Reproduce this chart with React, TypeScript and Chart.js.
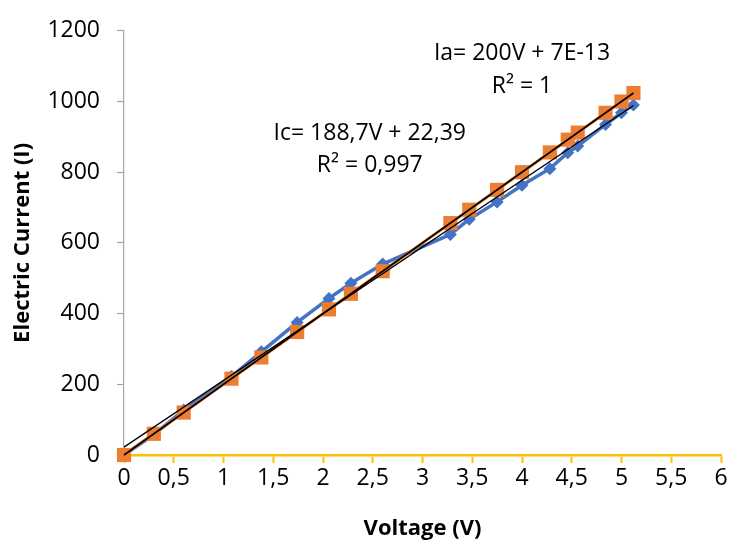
import React, { useEffect, useRef } from 'react';
import { Chart, registerables } from 'chart.js';

Chart.register(...registerables);

// ---- data ----
const voltage = [0, 0.3, 0.6, 1.08, 1.38, 1.74, 2.06, 2.28, 2.6, 3.28, 3.47, 3.75, 4.0, 4.28, 4.46, 4.56, 4.84, 5.0, 5.12];
const currentIa = [0, 60, 120, 216, 276, 348, 412, 456, 520, 656, 694, 750, 800, 856, 892, 912, 968, 1000, 1024];
const currentIc = [0, 58, 127, 222, 292, 375, 443, 486, 540, 624, 667, 716, 763, 810, 855, 874, 935, 968, 990];

// trendline equations as printed on the chart
const trendIaCoef = [200, 7e-13]; // slope, intercept
const trendIcCoef = [188.7, 22.39];
const trendRange = [0, 5.12];

const xAxisMin = 0;
const xAxisMax = 6;
const xAxisStep = 0.5;
const yAxisMin = 0;
const yAxisMax = 1200;
const yAxisStep = 200;

const labelIa = ['Ia= 200V + 7E-13', 'R² = 1'];
const labelIc = ['Ic= 188,7V + 22,39', 'R² = 0,997'];

const xTitle = 'Voltage (V)';
const yTitle = 'Electric Current (I)';

const FONT = "'Open Sans', 'Noto Sans', sans-serif";

const toPoints = (xs: number[], ys: number[]) => xs.map((x, i) => ({ x, y: ys[i] }));
const trendPoints = (coef: number[]) => trendRange.map((x) => ({ x, y: coef[0] * x + coef[1] }));

const equationPlugin = {
  id: 'equations',
  afterDatasetsDraw(chart: any) {
    const { ctx, scales } = chart;
    const xs = scales.x;
    const ys = scales.y;
    ctx.save();
    ctx.fillStyle = '#000000';
    ctx.font = `23px ${FONT}`;
    ctx.textAlign = 'center';
    ctx.textBaseline = 'alphabetic';
    const iaX = xs.getPixelForValue(4.0);
    ctx.fillText(labelIa[0], iaX, ys.getPixelForValue(1118));
    ctx.fillText(labelIa[1], iaX, ys.getPixelForValue(1024));
    const icX = xs.getPixelForValue(2.47);
    ctx.fillText(labelIc[0], icX, ys.getPixelForValue(892));
    ctx.fillText(labelIc[1], icX, ys.getPixelForValue(800));
    ctx.restore();
  },
};

export default function App() {
  const canvasRef = useRef<HTMLCanvasElement | null>(null);

  useEffect(() => {
    document.body.style.margin = '0';
    const canvas = canvasRef.current;
    if (!canvas) return;
    const chart = new Chart(canvas, {
      type: 'scatter',
      data: {
        datasets: [
          {
            label: 'Trend Ia',
            data: trendPoints(trendIaCoef),
            showLine: true,
            borderColor: '#000000',
            borderWidth: 1.6,
            pointRadius: 0,
            clip: false,
            order: 0,
          },
          {
            label: 'Trend Ic',
            data: trendPoints(trendIcCoef),
            showLine: true,
            borderColor: '#000000',
            borderWidth: 1.3,
            pointRadius: 0,
            clip: false,
            order: 0,
          },
          {
            label: 'Ia',
            data: toPoints(voltage, currentIa),
            showLine: true,
            borderColor: '#ED7D31',
            backgroundColor: '#ED7D31',
            borderWidth: 3,
            pointStyle: 'rect',
            pointRadius: 10,
            pointBorderWidth: 0,
            clip: false,
            order: 1,
          },
          {
            label: 'Ic',
            data: toPoints(voltage, currentIc),
            showLine: true,
            borderColor: '#4472C4',
            backgroundColor: '#4472C4',
            borderWidth: 3.5,
            pointStyle: 'rectRot',
            pointRadius: 6.5,
            pointBorderWidth: 0,
            clip: false,
            order: 2,
          },
        ],
      },
      options: {
        responsive: false,
        animation: false,
        layout: { padding: { top: 27, right: 10, bottom: 0, left: 0 } },
        plugins: {
          legend: { display: false },
          tooltip: { enabled: false },
        },
        scales: {
          x: {
            type: 'linear',
            min: xAxisMin,
            max: xAxisMax,
            afterFit: (scale: any) => {
              scale.height = 87;
            },
            ticks: {
              stepSize: xAxisStep,
              color: '#000000',
              font: { family: FONT, size: 23 },
              padding: 2,
              maxRotation: 0,
              autoSkip: false,
              callback: (v: any) => String(v).replace('.', ','),
            },
            grid: {
              drawOnChartArea: false,
              drawTicks: true,
              tickLength: 8,
              tickColor: '#FFC000',
              tickWidth: 2,
            },
            border: { color: '#FFC000', width: 2.5 },
            title: {
              display: true,
              text: xTitle,
              color: '#000000',
              font: { family: FONT, size: 22, weight: 'bold' },
              padding: { top: 0, bottom: 0 },
            },
          },
          y: {
            type: 'linear',
            min: yAxisMin,
            max: yAxisMax,
            afterFit: (scale: any) => {
              scale.width = 124;
            },
            ticks: {
              stepSize: yAxisStep,
              color: '#000000',
              font: { family: FONT, size: 23 },
              padding: 17,
              callback: (v: any) => String(v),
            },
            grid: {
              drawOnChartArea: false,
              drawTicks: true,
              tickLength: 7,
              tickColor: '#A6A6A6',
              tickWidth: 1.2,
            },
            border: { color: '#A6A6A6', width: 1.2 },
            title: {
              display: true,
              text: yTitle,
              color: '#000000',
              font: { family: FONT, size: 22, weight: 'bold' },
              padding: { top: 10, bottom: 0 },
            },
          },
        },
      },
      plugins: [equationPlugin],
    } as any);
    return () => chart.destroy();
  }, []);

  return (
    <div style={{ width: 731, height: 542 }}>
      <canvas ref={canvasRef} width={731} height={542} style={{ display: 'block' }} />
    </div>
  );
}
